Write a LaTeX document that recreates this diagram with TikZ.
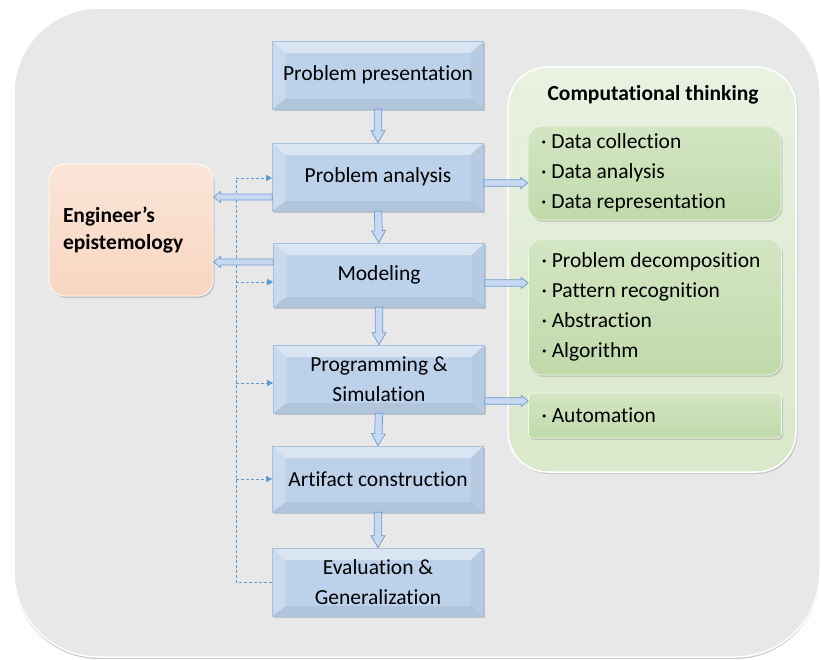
\documentclass[tikz,border=0pt]{standalone}
\usepackage{fontspec}
\setmainfont{Carlito}[Ligatures=NoCommon]
\usetikzlibrary{arrows.meta,calc,shadows}
\definecolor{panelgray}{HTML}{E8E8E8}
\definecolor{boxblue}{HTML}{BCD1EA}
\definecolor{boxedge}{HTML}{A6C0DE}
\definecolor{arrowfill}{HTML}{C6D9F1}
\definecolor{arrowline}{HTML}{6F9BD0}
\definecolor{dashblue}{HTML}{5B9BD5}
\definecolor{cttop}{HTML}{E9F1E1}
\definecolor{ctbottom}{HTML}{DAE8CB}
\definecolor{itemtop}{HTML}{D3E6C3}
\definecolor{itembottom}{HTML}{C0DAAA}
\definecolor{engtop}{HTML}{FBE5D8}
\definecolor{engbottom}{HTML}{F8D6C1}

% hollow block arrow: start, tip, shaft half-width, head half-width, head length
\newcommand{\blockarrow}[5]{%
  \coordinate (ba-h) at ($(#2)!#5!(#1)$);
  \filldraw[hollowarrow] ($(#1)!#3!90:(#2)$) -- ($(ba-h)!#3!90:(#2)$)
    -- ($(ba-h)!#4!90:(#2)$) -- (#2) -- ($(ba-h)!#4!-90:(#2)$)
    -- ($(ba-h)!#3!-90:(#2)$) -- ($(#1)!#3!-90:(#2)$) -- cycle;}

\begin{document}
\begin{tikzpicture}[
  x=1pt, y=-1pt,
  every node/.style={font=\fontsize{21.5}{30}\selectfont, text=black},
  panel/.style={rectangle, rounded corners=85, fill=panelgray, draw=white, line width=1.5pt,
    minimum width=806, minimum height=649,
    drop shadow={shadow xshift=0pt, shadow yshift=-2pt, fill=black!35, opacity=0.6}},
  stepbox/.style={rectangle, fill=boxblue, draw=boxedge, line width=0.6pt,
    minimum width=211, minimum height=68, align=center, inner sep=2pt,
    drop shadow={shadow xshift=1.5pt, shadow yshift=-2pt, fill=black!40, opacity=0.5},
    path picture={
      \fill[white, opacity=0.45] (path picture bounding box.north west) -- (path picture bounding box.north east)
        -- ([xshift=-13pt,yshift=-12pt]path picture bounding box.north east) -- ([xshift=13pt,yshift=-12pt]path picture bounding box.north west) -- cycle;
      \fill[white, opacity=0.2] (path picture bounding box.north west) -- ([xshift=13pt,yshift=-12pt]path picture bounding box.north west)
        -- ([xshift=13pt,yshift=10pt]path picture bounding box.south west) -- (path picture bounding box.south west) -- cycle;
      \fill[black, opacity=0.03] (path picture bounding box.north east) -- ([xshift=-13pt,yshift=-12pt]path picture bounding box.north east)
        -- ([xshift=-13pt,yshift=10pt]path picture bounding box.south east) -- (path picture bounding box.south east) -- cycle;
      \fill[black, opacity=0.06] (path picture bounding box.south west) -- (path picture bounding box.south east)
        -- ([xshift=-13pt,yshift=10pt]path picture bounding box.south east) -- ([xshift=13pt,yshift=10pt]path picture bounding box.south west) -- cycle;
    }},
  epistbox/.style={rectangle, rounded corners=16, top color=engtop, bottom color=engbottom,
    draw=white, line width=0.8pt, minimum height=132, text width=136, inner xsep=14pt,
    align=flush left, font=\fontsize{21.5}{27}\selectfont\bfseries,
    drop shadow={shadow xshift=1.5pt, shadow yshift=-2pt, fill=black!40, opacity=0.45}},
  ctpanel/.style={rectangle, rounded corners=40, top color=cttop, bottom color=ctbottom,
    draw=white, line width=1.5pt, minimum width=288, minimum height=405,
    drop shadow={shadow xshift=1.5pt, shadow yshift=-2pt, fill=black!35, opacity=0.45}},
  itembox/.style={rectangle, rounded corners=14, top color=itemtop, bottom color=itembottom,
    draw=white!70!itemtop, line width=0.6pt, minimum width=253, text width=227, inner xsep=13pt,
    align=flush left,
    drop shadow={shadow xshift=1.5pt, shadow yshift=-2pt, fill=black!40, opacity=0.4}},
  hollowarrow/.style={fill=arrowfill, draw=arrowline, line width=0.7pt, line join=miter},
  feedback/.style={dashblue, densely dashed, line width=0.7pt},
  fbtip/.style={-{Triangle[length=6pt, width=6pt]}},
]

% ---- background panel ----
\node[panel] (bg) at (417, 332.5) {};
\useasboundingbox (0,0) rectangle (821,659);

% ---- computational thinking panel ----
\node[ctpanel] (ct) at (652, 269.5) {};
\node[font=\fontsize{21.5}{24}\selectfont\bfseries] (ctt) at (653, 95) {Computational thinking};
\node[itembox, minimum height=94]  (g1) at (654.5, 173) {· Data collection\\· Data analysis\\· Data representation};
\node[itembox, minimum height=136] (g2) at (655, 307) {· Problem decomposition\\· Pattern recognition\\· Abstraction\\· Algorithm};
\node[itembox, minimum height=45, rounded corners=4] (g3) at (655, 415.5) {· Automation};

% ---- process steps ----
\node[stepbox] (pp) at (378, 75)  {Problem presentation};
\node[stepbox] (pa) at (378, 177) {Problem analysis};
\node[stepbox, minimum height=64] (mo) at (379, 275) {Modeling};
\node[stepbox] (ps) at (379, 379) {Programming \&\\Simulation};
\node[stepbox, minimum height=66] (ac) at (378, 479) {Artifact construction};
\node[stepbox] (ev) at (378, 582) {Evaluation \&\\Generalization};

% ---- engineer's epistemology ----
\node[epistbox] (ee) at (131, 230) {Engineer’s\\epistemology};

% ---- feedback (dashed) ----
\coordinate (fb-top) at (236, 178);
\coordinate (fb-mo)  at (236, 282);
\coordinate (fb-ps)  at (236, 383);
\coordinate (fb-ac)  at (236, 479);
\coordinate (fb-bot) at (236, 582);
\draw[feedback] (ev.west) -- (fb-bot) -- (fb-top);
\draw[feedback, fbtip] (fb-top) -- (pa.west |- fb-top);
\draw[feedback, fbtip] (fb-mo) -- (mo.west |- fb-mo);
\draw[feedback, fbtip] (fb-ps) -- (ps.west |- fb-ps);
\draw[feedback, fbtip] (fb-ac) -- (ac.west |- fb-ac);

% ---- downward flow ----
\blockarrow{pp.south}{pa.north}{3.7pt}{7pt}{12pt}
\blockarrow{pa.south}{mo.north}{3.7pt}{7pt}{12pt}
\blockarrow{mo.south}{ps.north}{3.7pt}{7pt}{12pt}
\blockarrow{ps.south}{ac.north}{3.7pt}{7pt}{12pt}
\blockarrow{ac.south}{ev.north}{3.7pt}{7pt}{12pt}

% ---- to engineer's epistemology ----
\coordinate (pa-l) at ($(pa.west)+(0,20)$);
\coordinate (ee-1) at (ee.east |- pa-l);
\coordinate (mo-l) at ($(mo.west)+(0,-13)$);
\coordinate (ee-2) at (ee.east |- mo-l);
\blockarrow{pa-l}{ee-1}{3pt}{5.5pt}{7pt}
\blockarrow{mo-l}{ee-2}{3pt}{5.5pt}{7pt}

% ---- to computational thinking ----
\coordinate (pa-r) at ($(pa.east)+(0,6)$);
\coordinate (g1-in) at (g1.west |- pa-r);
\coordinate (mo-r) at ($(mo.east)+(0,8)$);
\coordinate (g2-in) at (g2.west |- mo-r);
\coordinate (ps-r) at ($(ps.east)+(0,22)$);
\coordinate (g3-in) at (g3.west |- ps-r);
\blockarrow{pa-r}{g1-in}{3.3pt}{5.5pt}{7pt}
\blockarrow{mo-r}{g2-in}{3.3pt}{5.5pt}{7pt}
\blockarrow{ps-r}{g3-in}{3.3pt}{5.5pt}{7pt}

\end{tikzpicture}
\end{document}
